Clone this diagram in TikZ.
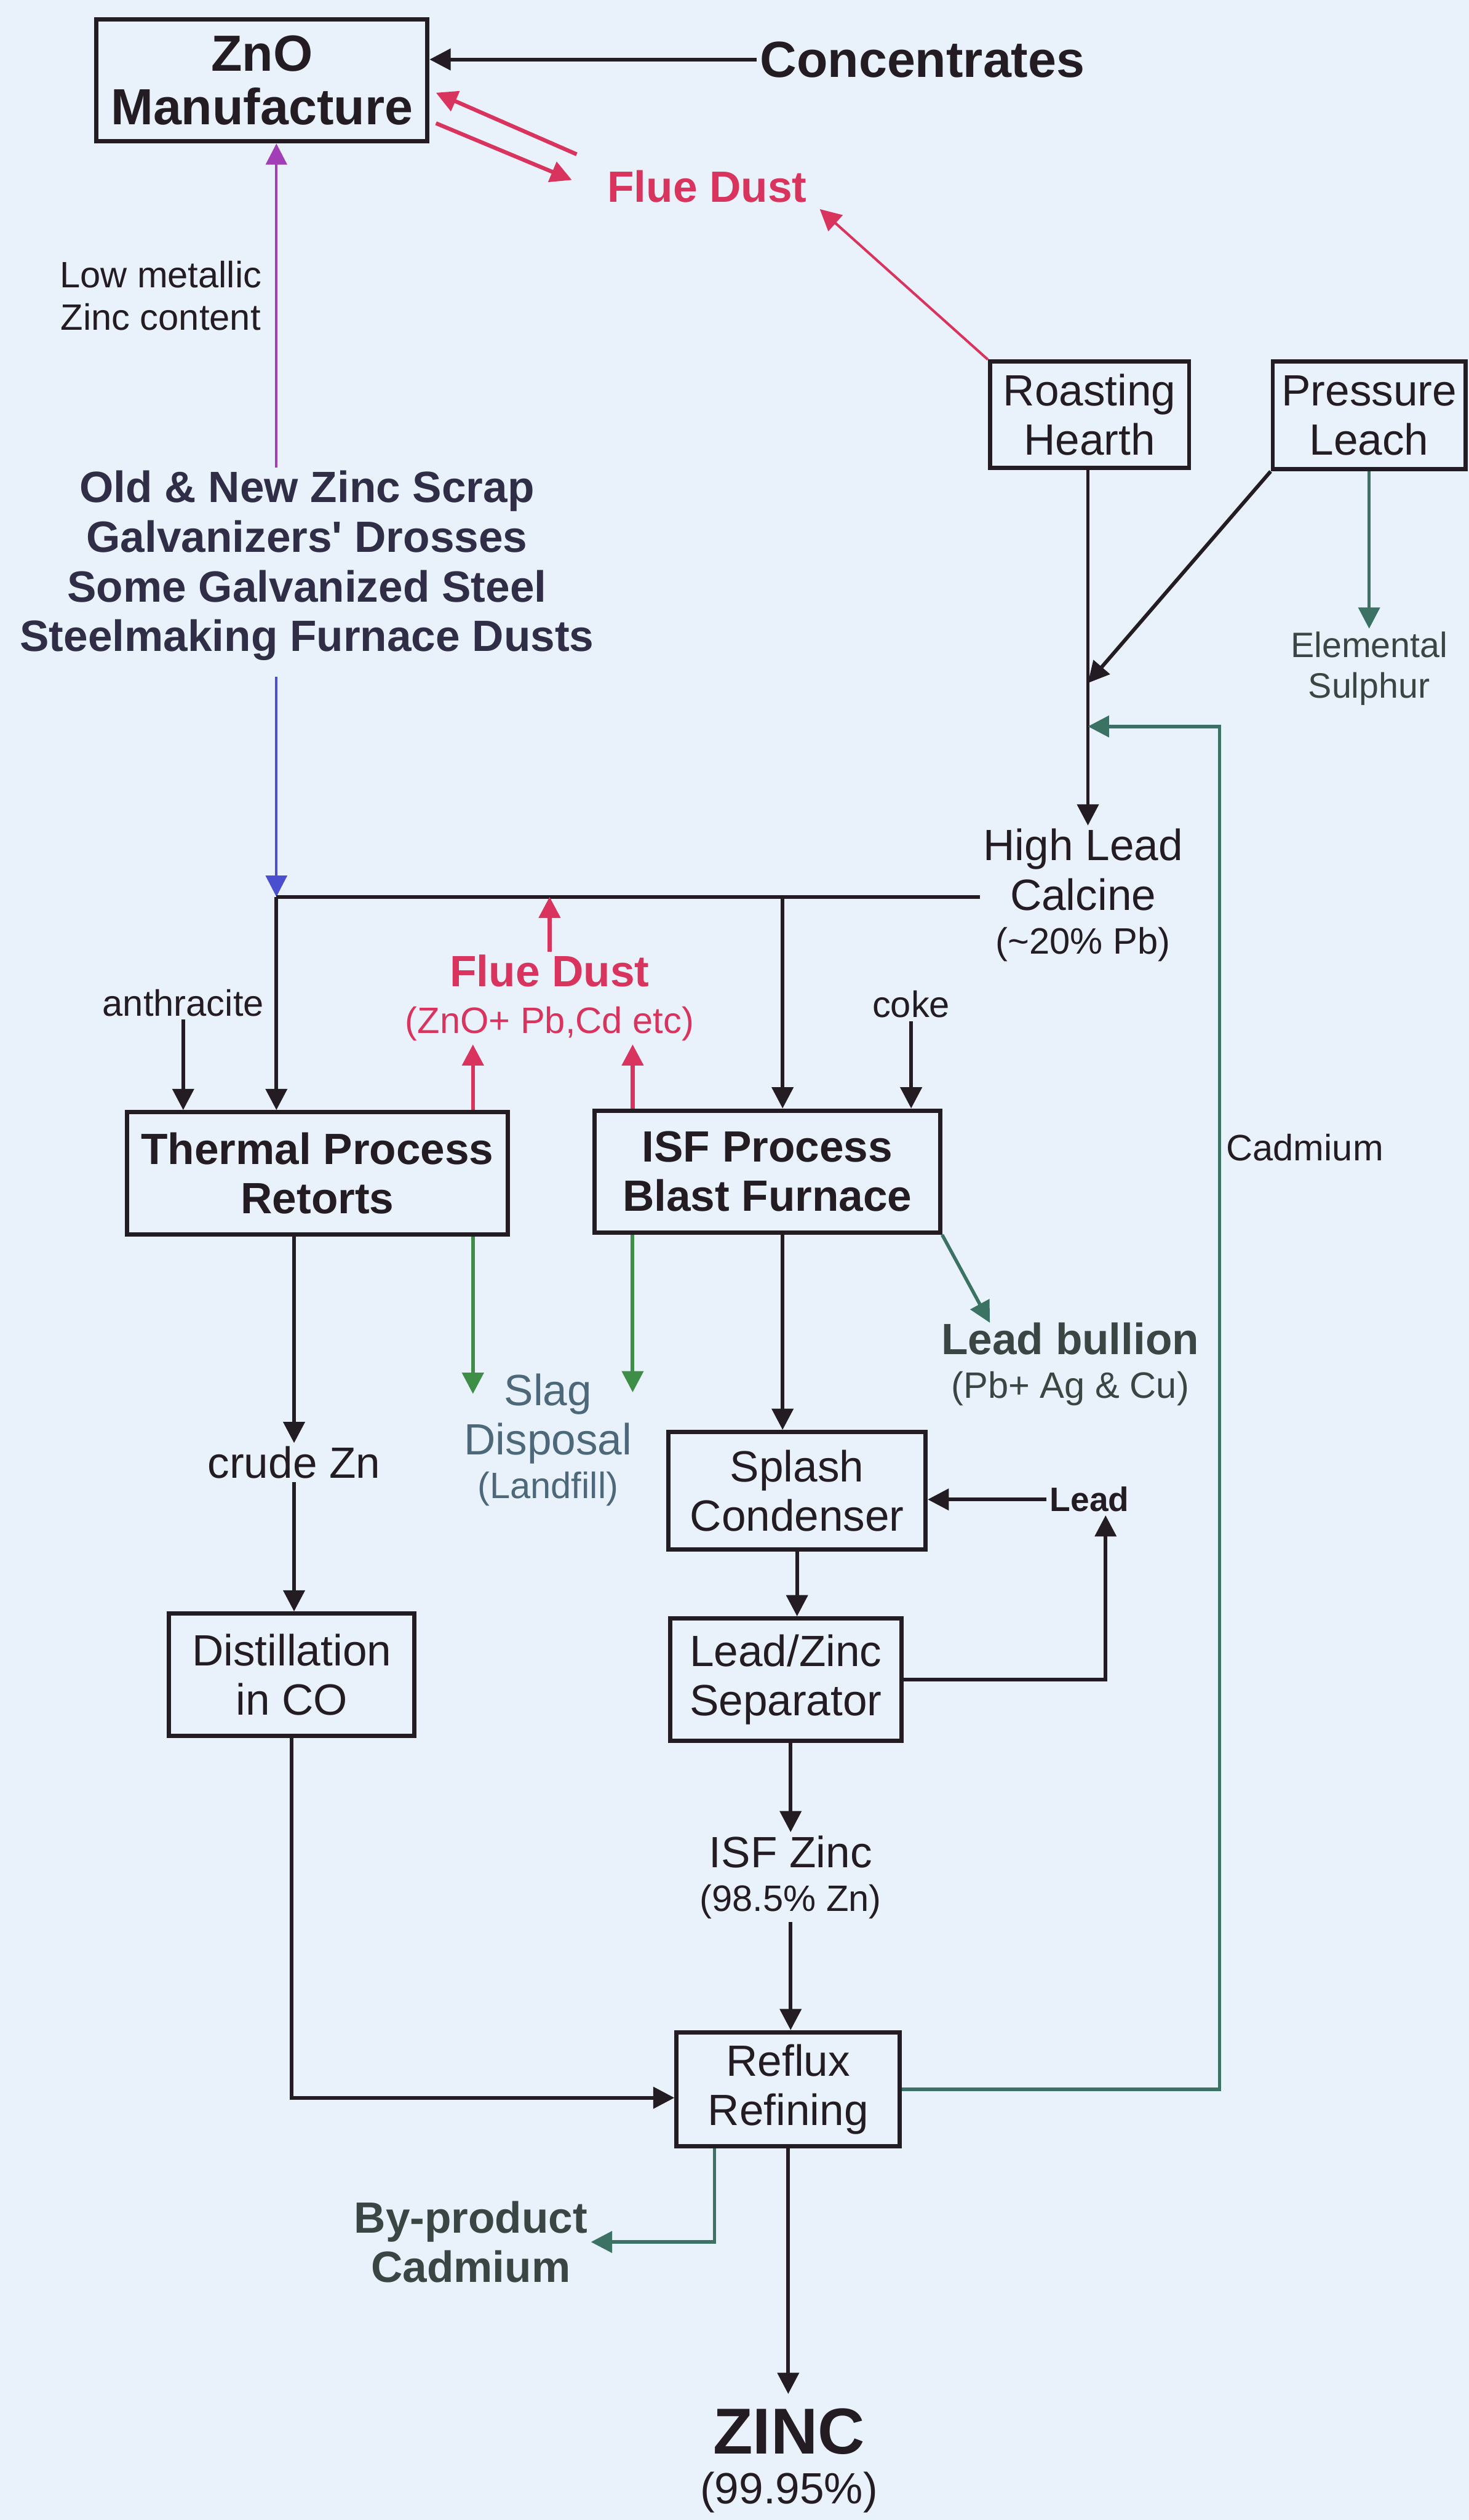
\documentclass[tikz,border=0pt]{standalone}
\usepackage{fontspec}
\setmainfont{Liberation Sans}
\usetikzlibrary{arrows.meta,calc}

\definecolor{paper}{HTML}{E9F2FB}
\definecolor{ink}{HTML}{231C22}
\definecolor{dustred}{HTML}{D9345E}
\definecolor{slaggreen}{HTML}{3E8E48}
\definecolor{teal}{HTML}{3C7264}
\definecolor{scrapblue}{HTML}{4A4FD0}
\definecolor{lowpurple}{HTML}{A33FB6}
\definecolor{scrapink}{HTML}{2F2E46}
\definecolor{slagink}{HTML}{4D6878}
\definecolor{bullionink}{HTML}{394643}

\newcommand{\bigtxt}{\fontsize{18}{20}\selectfont\bfseries}
\newcommand{\midtxt}{\fontsize{15.5}{17.5}\selectfont}
\newcommand{\smalltxt}{\fontsize{13}{15}\selectfont}

\begin{document}
\begin{tikzpicture}[x=0.02cm,y=-0.02cm,
    box/.style={draw=ink, line width=1.5pt, align=center, inner sep=2pt, text=ink, font=\midtxt},
    boldbox/.style={box, font=\midtxt\bfseries},
    lbl/.style={align=center, inner sep=1pt, text=ink, font=\midtxt},
    conn/.style={draw=ink, line width=1.3pt},
    tip/.style={-{Triangle[length=7.5pt,width=7.5pt]}},
    redflow/.style={draw=dustred, line width=1.4pt, tip},
    slagflow/.style={draw=slaggreen, line width=1.3pt, tip},
    tealflow/.style={draw=teal, line width=1.2pt, tip}]

    \fill[paper] (0,0) rectangle (914,1568);
    \useasboundingbox (0,0) rectangle (914,1568);

    % Boxes
    \node[box, font=\bigtxt, minimum width=4.12cm, minimum height=1.52cm] (zno) at (163,50) {ZnO\\[-1pt]Manufacture};
    \node[box, minimum width=2.48cm, minimum height=1.32cm] (roast) at (678,258) {Roasting\\Hearth};
    \node[box, minimum width=2.40cm, minimum height=1.34cm] (leach) at (852,258.5) {Pressure\\Leach};
    \node[boldbox, minimum width=4.74cm, minimum height=1.52cm] (thermal) at (197.5,730) {Thermal Process\\Retorts};
    \node[boldbox, minimum width=4.30cm, minimum height=1.52cm] (isf) at (477.5,729) {ISF Process\\Blast Furnace};
    \node[box, minimum width=3.20cm, minimum height=1.46cm] (splash) at (496,927.5) {Splash\\Condenser};
    \node[box, minimum width=2.88cm, minimum height=1.52cm] (sep) at (489,1045) {Lead/Zinc\\Separator};
    \node[box, minimum width=3.06cm, minimum height=1.52cm] (dist) at (181.5,1042) {Distillation\\in CO};
    \node[box, minimum width=2.78cm, minimum height=1.42cm] (reflux) at (490.5,1300) {Reflux\\Refining};

    % Labels
    \node[lbl, font=\bigtxt] (conc) at (574,37) {Concentrates};
    \node[lbl, text=dustred, font=\midtxt\bfseries] (flue1) at (440,116) {Flue Dust};
    \node[lbl, font=\smalltxt] (lowzn) at (100,184) {Low metallic\\Zinc content};
    \node[lbl, text=scrapink, font=\fontsize{15.5}{17.6}\selectfont\bfseries] (scrap) at (191,352)
        {Old \& New Zinc Scrap\\Galvanizers\textquotesingle{} Drosses\\Some Galvanized Steel\\Steelmaking Furnace Dusts};
    \node[lbl, text=bullionink, font=\fontsize{12.5}{14.2}\selectfont] (elem) at (852,416) {Elemental\\Sulphur};
    \node[lbl] (calcine) at (674,557) {High Lead\\Calcine\\[-2pt]{\smalltxt (\textasciitilde20\% Pb)}};
    \node[lbl, font=\smalltxt] (anthr) at (114,624) {anthracite};
    \node[lbl, text=dustred] (flue2) at (342,621) {\bfseries Flue Dust\\[-1pt]{\smalltxt (ZnO+ Pb,Cd etc)}};
    \node[lbl, font=\smalltxt] (coke) at (567,625) {coke};
    \node[lbl, font=\smalltxt] (cadm) at (812,714) {Cadmium};
    \node[lbl, text=slagink] (slag) at (341,896) {Slag\\Disposal\\[-2pt]{\smalltxt (Landfill)}};
    \node[lbl, text=bullionink] (bullion) at (666,849) {\bfseries Lead bullion\\[-2pt]{\smalltxt (Pb+ Ag \& Cu)}};
    \node[lbl] (crude) at (183,910) {crude Zn};
    \node[lbl, font=\fontsize{12}{14}\selectfont\bfseries] (lead) at (678,933) {Lead};
    \node[lbl] (isfzn) at (492,1168) {ISF Zinc\\[-2pt]{\smalltxt (98.5\% Zn)}};
    \node[lbl, text=bullionink, font=\midtxt\bfseries] (byprod) at (293,1395) {By-product\\Cadmium};
    \node[lbl] (zinc) at (491,1531) {{\fontsize{23}{25}\selectfont\bfseries ZINC}\\{\midtxt (99.95\%)}};

    % Junctions
    \coordinate (feed) at (172,558);
    \coordinate (isfin) at (487,558);
    \coordinate (merge) at (677,425);
    \coordinate (cdtop) at (759,452);
    \coordinate (tdust) at ($(thermal.north east)+(-23,0)$);
    \coordinate (idust) at ($(isf.north west)+(25,0)$);
    \coordinate (tslag) at ($(thermal.south east)+(-23,0)$);
    \coordinate (islag) at ($(isf.south west)+(25,0)$);
    \coordinate (leadup) at ($(lead.south)+(10,0)$);
    \coordinate (rcad) at ($(reflux.south west)+(25,0)$);

    % ZnO feeds
    \draw[conn, tip] (conc.west) -- (conc.west -| zno.east);
    \draw[redflow] ($(flue1.west)+(-17,-20)$) -- ($(zno.north east)+(4,47)$);
    \draw[redflow] ($(zno.north east)+(4,66)$) -- ($(flue1.west)+(-20,-4)$);
    \draw[redflow, line width=0.9pt] (roast.north west) -- ($(flue1.south east)+(6,2)$);
    \draw[draw=lowpurple, line width=0.9pt, tip] (feed |- scrap.north) -- (feed |- zno.south);
    \draw[draw=scrapblue, line width=0.9pt, tip] ($(feed |- scrap.south)+(0,8)$) -- (feed);

    % Roasting and leach to calcine
    \draw[conn, tip] (roast.south -| merge) -- (merge |- calcine.north);
    \draw[conn, tip] (leach.south west) -- (merge);
    \draw[tealflow] (leach.south) -- (leach.south |- elem.north);

    % Feed header
    \draw[conn] (feed) -- (feed -| calcine.west);
    \draw[conn, tip] (feed) -- (feed |- thermal.north);
    \draw[conn, tip] (isfin) -- (isfin |- isf.north);
    \draw[conn, tip] (anthr.south) -- (anthr.south |- thermal.north);
    \draw[conn, tip] (coke.south) -- (coke.south |- isf.north);

    % Flue dust and slag
    \draw[redflow] (tdust) -- (tdust |- flue2.south);
    \draw[redflow] (idust) -- (idust |- flue2.south);
    \draw[redflow] (flue2.north) -- (flue2.north |- feed);
    \draw[slagflow] (tslag) -- ++(0,98);
    \draw[slagflow] (islag) -- ++(0,98);
    \draw[tealflow] (isf.south east) -- ($(bullion.north)+(-50,2)$);

    % Thermal route
    \draw[conn, tip] (crude.north |- thermal.south) -- (crude.north);
    \draw[conn, tip] (crude.south) -- (crude.south |- dist.north);
    \draw[conn, tip] (dist.south) |- ([yshift=-3pt]reflux.west);

    % ISF route
    \draw[conn, tip] (isfin |- isf.south) -- (isfin |- splash.north);
    \draw[conn, tip] (lead.west) -- (lead.west -| splash.east);
    \draw[conn, tip] (splash.south) -- (splash.south |- sep.north);
    \draw[conn, tip] (sep.east) -| (leadup);
    \draw[conn, tip] (isfzn.north |- sep.south) -- (isfzn.north);
    \draw[conn, tip] (isfzn.south) -- (isfzn.south |- reflux.north);

    % Refining outputs
    \draw[tealflow] (reflux.east) -| (cdtop) -- (cdtop -| merge);
    \draw[tealflow] (rcad) |- (byprod.east);
    \draw[conn, tip] (reflux.south) -- ([yshift=4pt]reflux.south |- zinc.north);
\end{tikzpicture}
\end{document}
